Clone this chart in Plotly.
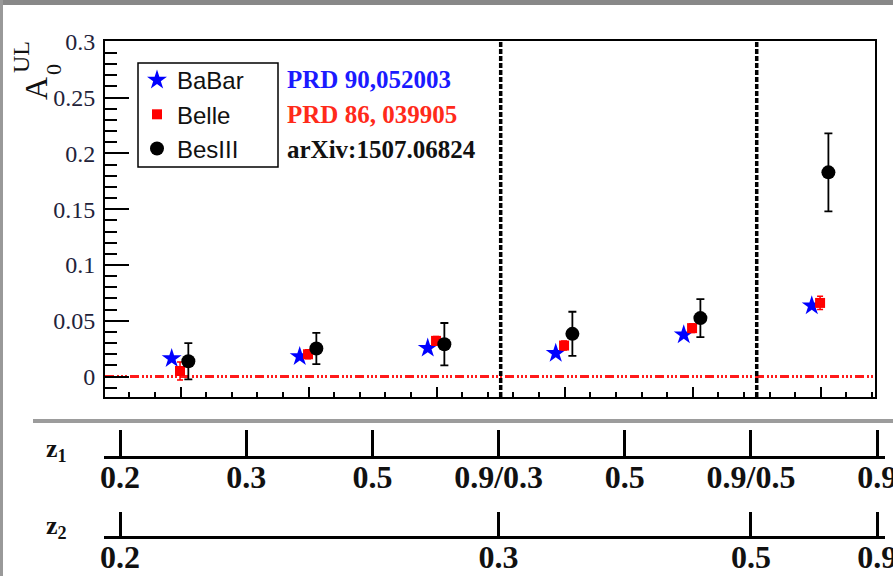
import plotly.graph_objects as go

# ---------------- data ----------------
bins = [1, 2, 3, 4, 5, 6]
babar = [0.0163, 0.0180, 0.0255, 0.0210, 0.0374, 0.0635]
belle = [0.0050, 0.0200, 0.0320, 0.0278, 0.0434, 0.0660]
belle_err = [0.0080, 0.0040, 0.0040, 0.0040, 0.0040, 0.0060]
besiii = [0.0137, 0.0252, 0.0290, 0.0383, 0.0524, 0.1830]
besiii_err = [0.0162, 0.0140, 0.0190, 0.0198, 0.0170, 0.0350]
separators = [3.5, 5.5]

z1_pos = [0, 1, 2, 3, 4, 5, 6]
z1_labels = ["0.2", "0.3", "0.5", "0.9/0.3", "0.5", "0.9/0.5", "0.9"]
z2_pos = [0, 3, 5, 6]
z2_labels = ["0.2", "0.3", "0.5", "0.9"]

refs = ["PRD 90,052003", "PRD 86, 039905", "arXiv:1507.06824"]
ref_colors = ["#1a1aff", "#ff2a1a", "#111111"]

W, H = 893, 576
def px(x): return x / W
def py(y): return 1 - y / H

SERIF = "Liberation Serif"
SANS = "Liberation Sans"

fig = go.Figure()
fig.add_trace(go.Scatter(
    x=[b - 0.07 for b in bins], y=babar, mode="markers", name="BaBar",
    legendgroup="a",
    marker=dict(symbol="star", size=15, color="#0000ff", line=dict(width=0))))
fig.add_trace(go.Scatter(
    x=[b - 0.005 for b in bins], y=belle, mode="markers", name="Belle",
    legendgroup="b",
    error_y=dict(type="data", array=belle_err, color="#ff0000", thickness=1.5, width=3),
    marker=dict(symbol="square", size=10, color="#ff0000", line=dict(width=0))))
fig.add_trace(go.Scatter(
    x=[b + 0.06 for b in bins], y=besiii, mode="markers", name="BesIII",
    legendgroup="c",
    error_y=dict(type="data", array=besiii_err, color="#000000", thickness=1.8, width=4),
    marker=dict(symbol="circle", size=14, color="#000000", line=dict(width=0))))

# dummy traces for the z axes
fig.add_trace(go.Scatter(x=[None], y=[None], xaxis="x2", yaxis="y2", showlegend=False))
fig.add_trace(go.Scatter(x=[None], y=[None], xaxis="x3", yaxis="y3", showlegend=False))

# zero line (red dash-dot-dot)
fig.add_shape(type="line", xref="x domain", yref="y", x0=0, x1=1, y0=0, y1=0,
              line=dict(color="#ff1a1a", width=3, dash="9px,3px,2px,2px,2px,2px,2px,3px"),
              layer="below")
for s in separators:
    fig.add_shape(type="line", xref="x", yref="y domain", x0=s, x1=s, y0=0, y1=1,
                  line=dict(color="#000000", width=3.5, dash="5px,2px"))

# slide decorations
fig.add_shape(type="rect", xref="paper", yref="paper", x0=-0.01, x1=1.01, y0=py(5), y1=1.01,
              fillcolor="#888888", line=dict(width=0))
fig.add_shape(type="rect", xref="paper", yref="paper", x0=-0.01, x1=px(3), y0=-0.01, y1=1.01,
              fillcolor="#999999", line=dict(width=0))
fig.add_shape(type="rect", xref="paper", yref="paper", x0=px(33), x1=1.01, y0=py(423), y1=py(419),
              fillcolor="#9c9c9c", line=dict(width=0))
# legend frame
fig.add_shape(type="rect", xref="paper", yref="paper", x0=px(138), x1=px(278), y0=py(167), y1=py(63),
              fillcolor="white", line=dict(color="#000", width=1.5), layer="below")

# reference texts
for i, (t, c) in enumerate(zip(refs, ref_colors)):
    fig.add_annotation(x=px(285), y=py(80 + i * 34.5), xref="paper", yref="paper",
                       text="<b>" + t + "</b>", showarrow=False, xanchor="left", yanchor="middle",
                       font=dict(family=SERIF, size=25, color=c))

# y title A_0^UL
fig.add_annotation(x=px(36), y=py(89), xref="paper", yref="paper", text="A", textangle=-90,
                   showarrow=False, xanchor="center", yanchor="middle",
                   font=dict(family=SERIF, size=32, color="#111"))
fig.add_annotation(x=px(53), y=py(70), xref="paper", yref="paper", text="0", textangle=-90,
                   showarrow=False, xanchor="center", yanchor="middle",
                   font=dict(family=SERIF, size=22, color="#111"))
fig.add_annotation(x=px(21), y=py(57), xref="paper", yref="paper", text="UL", textangle=-90,
                   showarrow=False, xanchor="center", yanchor="middle",
                   font=dict(family=SERIF, size=24, color="#111"))

# z labels
fig.add_annotation(x=px(56), y=py(450), xref="paper", yref="paper", text="<b>z<sub>1</sub></b>",
                   showarrow=False, xanchor="center", yanchor="middle",
                   font=dict(family=SERIF, size=26, color="#111"))
fig.add_annotation(x=px(56), y=py(527), xref="paper", yref="paper", text="<b>z<sub>2</sub></b>",
                   showarrow=False, xanchor="center", yanchor="middle",
                   font=dict(family=SERIF, size=26, color="#111"))

fig.update_layout(
    width=W, height=H, margin=dict(l=0, r=0, t=0, b=0, pad=0, autoexpand=False),
    paper_bgcolor="white", plot_bgcolor="white",
    showlegend=True,
    legend=dict(x=px(137), y=py(58), xanchor="left", yanchor="top",
                bgcolor="rgba(0,0,0,0)", borderwidth=0,
                font=dict(family=SANS, size=24, color="#111"),
                tracegroupgap=0, itemsizing="trace"),
    xaxis=dict(domain=[px(105), px(875)], range=[0.409, 6.424], automargin=False,
               showline=True, linecolor="#000", linewidth=2, mirror=True,
               ticks="inside", ticklen=10, tickwidth=2, tickcolor="#000",
               tickmode="linear", tick0=1, dtick=1, showticklabels=False,
               minor=dict(ticks="inside", ticklen=5, tickwidth=1.5, tickcolor="#000", dtick=0.2, tick0=0),
               showgrid=False, zeroline=False),
    yaxis=dict(domain=[py(397), py(41)], range=[-0.0183, 0.3007], automargin=False,
               showline=True, linecolor="#000", linewidth=2, mirror=True,
               ticks="inside", ticklen=24, tickwidth=2, tickcolor="#000",
               tickmode="linear", tick0=0, dtick=0.05,
               minor=dict(ticks="inside", ticklen=12, tickwidth=1.5, tickcolor="#000", dtick=0.01, tick0=0),
               tickfont=dict(family=SERIF, size=24, color="#22223a"),
               ticklabelstandoff=3,
               showgrid=False, zeroline=False),
    xaxis2=dict(domain=[px(104), px(885)], range=[-0.127, 6.062], anchor="y2", automargin=False,
                showline=True, linecolor="#000", linewidth=3,
                ticks="inside", ticklen=26, tickwidth=3, tickcolor="#000",
                tickmode="array", tickvals=z1_pos, ticktext=["<b>%s</b>" % t for t in z1_labels],
                tickfont=dict(family=SERIF, size=32, color="#111"),
                ticklabelstandoff=-9, ticklabeloverflow="allow",
                showgrid=False, zeroline=False),
    yaxis2=dict(domain=[py(456), py(420)], range=[0, 1], visible=False, automargin=False),
    xaxis3=dict(domain=[px(104), px(885)], range=[-0.127, 6.062], anchor="y3", automargin=False,
                showline=True, linecolor="#000", linewidth=3,
                ticks="inside", ticklen=24, tickwidth=3, tickcolor="#000",
                tickmode="array", tickvals=z2_pos, ticktext=["<b>%s</b>" % t for t in z2_labels],
                tickfont=dict(family=SERIF, size=32, color="#111"),
                ticklabelstandoff=-9, ticklabeloverflow="allow",
                showgrid=False, zeroline=False),
    yaxis3=dict(domain=[py(536), py(505)], range=[0, 1], visible=False, automargin=False),
)

fig.write_html("out.html", config={"displayModeBar": False},
               post_script="document.body.style.margin='0';document.body.style.overflow='hidden';")
